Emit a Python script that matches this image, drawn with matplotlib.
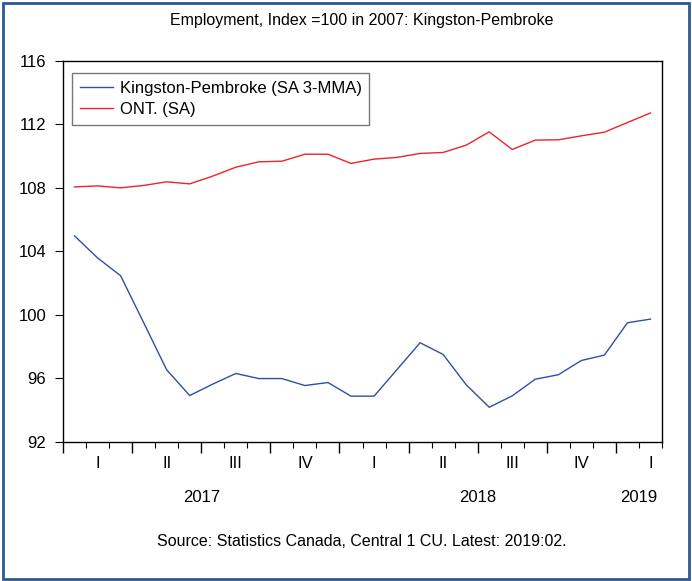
import matplotlib.pyplot as plt
from matplotlib.patches import Rectangle
import numpy as np

plt.rcParams['font.family'] = ['Liberation Sans', 'DejaVu Sans']

# monthly, Jan 2017 .. Feb 2019
kingston = [104.97, 103.58, 102.46, 99.5, 96.52, 94.9, 95.62, 96.29, 95.97, 95.97,
            95.53, 95.72, 94.86, 94.86, 96.54, 98.23, 97.49, 95.58, 94.16, 94.88,
            95.93, 96.21, 97.11, 97.45, 99.49, 99.72]
ontario = [108.06, 108.12, 108.0, 108.15, 108.38, 108.25, 108.74, 109.3, 109.64, 109.68,
           110.12, 110.12, 109.54, 109.81, 109.92, 110.17, 110.23, 110.69, 111.53, 110.42,
           111.01, 111.03, 111.28, 111.51, 112.12, 112.72]
quarters = ["I", "II", "III", "IV", "I", "II", "III", "IV", "I"]
years = ["2017", "2018", "2019"]
year_pos = [6, 18, 25]

x = np.arange(len(kingston)) + 0.5

fig = plt.figure(figsize=(6.92, 5.81), dpi=100)
ax = fig.add_axes([63/692, 1-441.5/581, (662-63)/692, (441.5-61)/581])

ax.plot(x, kingston, color="#2F4FA8", lw=1.0, label="Kingston-Pembroke (SA 3-MMA)")
ax.plot(x, ontario, color="#F0222A", lw=1.0, label="ONT. (SA)")

ax.set_xlim(0, 26)
ax.set_ylim(92, 116)
ax.set_yticks([92, 96, 100, 104, 108, 112, 116])
ax.tick_params(axis="y", direction="out", length=6, width=0.8, pad=6, labelsize=12)

ax.set_xticks(np.arange(0, 27, 3))
ax.set_xticks(np.arange(0, 27, 1), minor=True)
ax.set_xticklabels([])
ax.tick_params(axis="x", which="major", direction="out", length=8, width=1.0)
ax.tick_params(axis="x", which="minor", direction="out", length=4, width=0.8)

for i, q in enumerate(quarters):
    ax.text(3 * i + 1.5, -0.058, q, transform=ax.get_xaxis_transform(),
            ha="center", va="center", fontsize=12)
for p, y in zip(year_pos, years):
    ax.text(p, -0.147, y, transform=ax.get_xaxis_transform(),
            ha="center", va="center", fontsize=12)

for s in ax.spines.values():
    s.set_linewidth(1.0)

leg = ax.legend(loc="upper left", bbox_to_anchor=(9/599, 1-12/380.5), fontsize=12,
                frameon=True, fancybox=False, handlelength=2.0, borderpad=0.45,
                labelspacing=0.4, handletextpad=0.4, borderaxespad=0)
leg.get_frame().set_edgecolor("#555555")
leg.get_frame().set_linewidth(1.0)

fig.text(362/692, 1-20/581, "Employment, Index =100 in 2007: Kingston-Pembroke",
         ha="center", va="center", fontsize=11.5)
fig.text(362/692, 1-541/581, "Source: Statistics Canada, Central 1 CU. Latest: 2019:02.",
         ha="center", va="center", fontsize=11.5)

fig.patches.append(Rectangle((3/692, 2/581), 686/692, 576/581, transform=fig.transFigure,
                             fill=False, edgecolor="#2B5A8E", lw=2))

fig.savefig("out.png", dpi=100)
